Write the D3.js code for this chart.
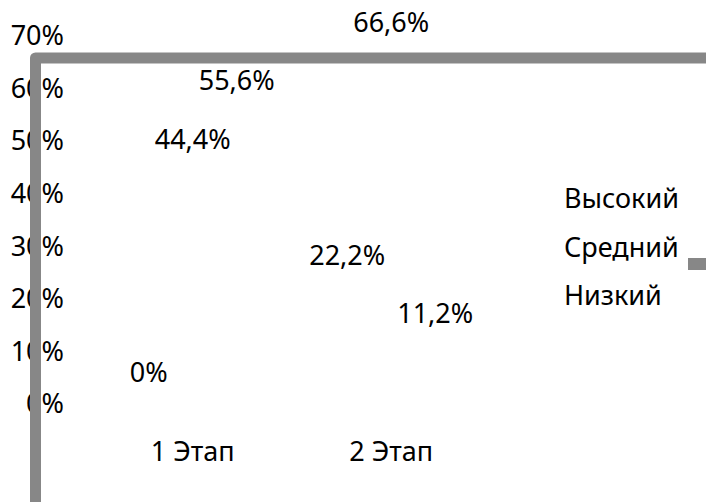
<!DOCTYPE html>
<html>
<head>
<meta charset="utf-8">
<script src="https://cdn.jsdelivr.net/npm/d3@7"></script>
<style>
  body { margin: 0; background: #fff; }
  text { font-family: "Noto Sans", sans-serif; fill: #000; }
</style>
</head>
<body>
<div id="chart"></div>
<script>
var svgWidth = 706;
var svgHeight = 502;

// data
var categories = ["1 Этап", "2 Этап"];
var seriesNames = ["Высокий", "Средний", "Низкий"];
var valuesStage1 = [0, 44.4, 55.6];
var valuesStage2 = [22.2, 66.6, 11.2];
var valueLabels1 = ["0%", "44,4%", "55,6%"];
var valueLabels2 = ["22,2%", "66,6%", "11,2%"];
var yTicks = [0, 10, 20, 30, 40, 50, 60, 70];

var fontSize = 27;
var lineColor = "#878787";

var svg = d3.select("#chart")
  .append("svg")
  .attr("width", svgWidth)
  .attr("height", svgHeight);

// scales
var yScale = d3.scaleLinear()
  .domain([0, 70])
  .range([403, 35]);

var xScale = d3.scaleBand()
  .domain(categories)
  .range([93.5, 490.5])
  .padding(0);

var xInner = d3.scaleBand()
  .domain(seriesNames)
  .range([0, 132]);

// build rows from the arrays
var rows = [];
categories.forEach(function(cat, ci) {
  var vals = ci === 0 ? valuesStage1 : valuesStage2;
  var labs = ci === 0 ? valueLabels1 : valueLabels2;
  seriesNames.forEach(function(s, si) {
    rows.push({ category: cat, series: s, value: vals[si], label: labs[si] });
  });
});

function barCenter(d) {
  return xScale(d.category) + xScale.bandwidth() / 2
    - 66 + xInner(d.series) + xInner.bandwidth() / 2;
}

// y axis tick labels (drawn under the frame line)
var leftAxis = d3.axisLeft(yScale)
  .tickValues(yTicks)
  .tickSize(0)
  .tickPadding(0)
  .tickFormat(function(d) { return d + "%"; });

var yAxis = svg.append("g")
  .attr("transform", "translate(64, 0)")
  .call(leftAxis);
yAxis.select(".domain").remove();
yAxis.selectAll("text")
  .style("font-size", fontSize + "px")
  .attr("dy", "0.36em")
  .attr("fill", "#000");

// bars (white, they don't show)
svg.append("g").selectAll("rect")
  .data(rows)
  .enter()
  .append("rect")
  .attr("x", d => barCenter(d) - 18)
  .attr("y", d => yScale(d.value))
  .attr("width", 36)
  .attr("height", d => yScale(0) - yScale(d.value))
  .attr("fill", "#fff");

// data labels
svg.append("g").selectAll("text")
  .data(rows)
  .enter()
  .append("text")
  .attr("x", d => barCenter(d))
  .attr("y", d => yScale(d.value) - 21)
  .attr("text-anchor", "middle")
  .style("font-size", fontSize + "px")
  .text(d => d.label);

// category labels
svg.append("g").selectAll("text")
  .data(categories)
  .enter()
  .append("text")
  .attr("x", d => xScale(d) + xScale.bandwidth() / 2)
  .attr("y", 461)
  .attr("text-anchor", "middle")
  .style("font-size", fontSize + "px")
  .text(d => d);

// frame line: left and top
svg.append("path")
  .attr("d", "M35.5," + svgHeight + " L35.5,58 L" + (svgWidth + 10) + ",58")
  .attr("fill", "none")
  .attr("stroke", lineColor)
  .attr("stroke-width", 11)
  .attr("stroke-linejoin", "round");

// legend
var legend = svg.append("g")
  .attr("transform", "translate(564, 208)");

legend.selectAll("text")
  .data(seriesNames)
  .enter()
  .append("text")
  .attr("x", 0)
  .attr("y", (d, i) => i * 48.5)
  .style("font-size", fontSize + "px")
  .text(d => d);

// the one marker that shows, next to "Средний"
legend.append("rect")
  .attr("x", 124)
  .attr("y", 50)
  .attr("width", 20)
  .attr("height", 12)
  .attr("fill", lineColor);
</script>
</body>
</html>
